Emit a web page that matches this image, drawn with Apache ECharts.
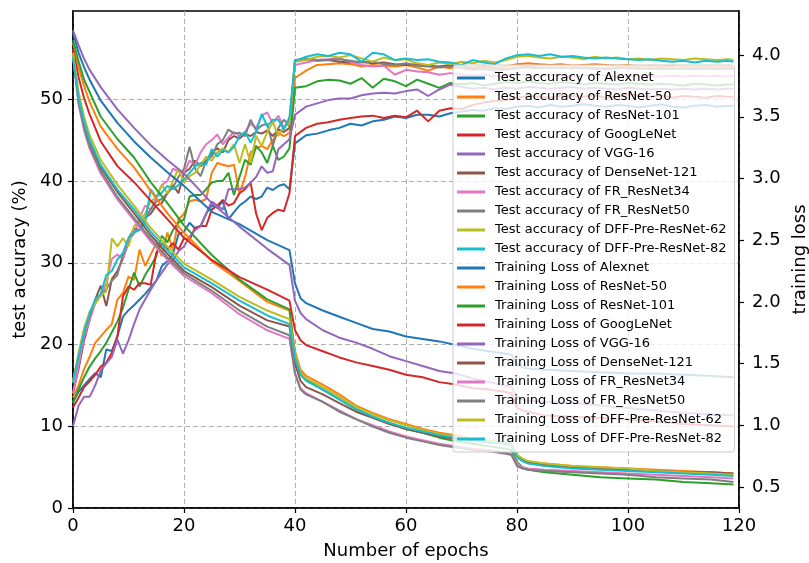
<!DOCTYPE html>
<html>
<head>
<meta charset="utf-8">
<script src="https://cdn.jsdelivr.net/npm/echarts@6/dist/echarts.min.js"></script>
<style>
  html, body { margin: 0; padding: 0; background: #fff; }
  #chart { width: 809px; height: 563px; }
</style>
</head>
<body>
<div id="chart"></div>
<script>
var models = ['Alexnet', 'ResNet-50', 'ResNet-101', 'GoogLeNet', 'VGG-16', 'DenseNet-121',
  'FR_ResNet34', 'FR_ResNet50', 'DFF-Pre-ResNet-62', 'DFF-Pre-ResNet-82']
var colors = ['#1f77b4', '#ff7f0e', '#2ca02c', '#d62728', '#9467bd', '#8c564b',
  '#e377c2', '#7f7f7f', '#bcbd22', '#17becf']

var accEpochs = [0, 1, 2, 3, 4, 5, 6, 7, 8, 9, 10, 11, 12, 13, 14, 15, 16, 17, 18, 19,
  20, 21, 22, 23, 24, 25, 26, 27, 28, 29, 30, 31, 32, 33, 34, 35, 36, 37, 38, 39, 40,
  42, 44, 46, 48, 50, 52, 54, 56, 58, 60, 62, 64, 66, 68, 70, 72, 74, 76, 78, 80,
  82, 84, 86, 88, 90, 92, 94, 96, 98, 100, 102, 104, 106, 108, 110, 112, 114, 116, 118, 119]

var accAlexnet = [13.0, 14.2, 15.0, 15.8, 16.5, 16.0, 19.4, 19.2, 21.0, 23.4, 24.2, 24.8, 25.5, 26.2, 27.0, 27.8, 29.6, 30.2, 31.0, 33.5,
  33.8, 34.9, 34.2, 34.5, 36.0, 37.0, 36.8, 37.5, 35.3, 36.2, 37.0, 37.5, 38.1, 37.8, 38.1, 39.2, 38.9, 39.4, 39.6, 39.0, 44.6,
  45.6, 45.8, 46.2, 46.5, 47.0, 46.8, 47.3, 47.5, 47.9, 47.7, 48.1, 48.1, 47.9, 48.3, 48.5, 48.7, 48.6, 48.9, 48.8, 49.1,
  49.2, 49.0, 49.3, 49.1, 49.2, 49.4, 49.2, 49.1, 49.3, 49.2, 49.0, 49.2, 49.4, 49.1, 49.0, 49.2, 49.3, 49.1, 49.2, 49.2]
var accResNet50 = [13.5, 15.0, 17.0, 18.5, 20.2, 21.0, 21.8, 22.5, 25.5, 26.3, 28.3, 27.9, 31.6, 29.6, 31.0, 32.4, 30.8, 33.7, 31.6, 35.3,
  36.0, 37.5, 37.7, 37.5, 37.8, 41.0, 42.2, 42.0, 41.8, 42.0, 38.5, 40.5, 43.5, 44.0, 44.3, 43.9, 45.0, 45.9, 45.5, 45.9, 52.6,
  53.5, 54.2, 54.3, 54.4, 54.3, 54.0, 54.2, 54.1, 54.0, 54.2, 53.9, 53.5, 54.0, 53.8, 54.0, 53.9, 54.1, 53.9, 54.0, 54.3,
  54.4, 54.3, 54.2, 54.3, 54.1, 54.2, 54.3, 54.2, 54.1, 54.2, 54.0, 54.1, 54.0, 54.1, 54.0, 53.9, 54.0, 53.9, 54.0, 53.9]
var accResNet101 = [12.8, 14.5, 16.0, 17.3, 18.3, 19.2, 20.2, 21.5, 22.8, 24.5, 26.7, 28.8, 27.1, 28.5, 29.6, 30.8, 33.3, 32.5, 34.0, 34.9,
  35.3, 38.1, 38.3, 38.3, 39.0, 39.8, 40.0, 40.0, 41.0, 38.3, 40.5, 42.6, 42.0, 44.3, 43.5, 42.2, 44.3, 42.6, 43.0, 44.0, 51.4,
  51.6, 52.2, 52.4, 52.3, 51.9, 52.6, 51.4, 52.5, 52.2, 51.6, 52.4, 51.9, 51.4, 52.0, 51.8, 52.0, 51.7, 51.9, 52.1, 52.0,
  52.2, 52.0, 51.9, 52.1, 52.0, 51.8, 52.0, 51.9, 51.8, 52.0, 51.9, 51.8, 51.9, 51.8, 51.7, 51.9, 51.8, 51.7, 51.8, 51.8]
var accGoogLeNet = [12.3, 13.5, 14.8, 15.5, 16.3, 17.3, 17.8, 19.0, 21.0, 25.9, 27.1, 26.7, 27.5, 27.5, 27.3, 31.2, 32.4, 31.6, 32.4, 31.6,
  33.0, 32.8, 34.3, 34.5, 34.5, 36.5, 37.0, 37.7, 37.0, 37.3, 38.5, 39.0, 39.8, 36.0, 34.0, 35.5, 36.1, 36.5, 36.3, 38.5, 45.5,
  46.5, 47.0, 47.2, 47.5, 47.7, 47.9, 48.0, 47.7, 48.0, 47.8, 48.6, 47.3, 48.6, 48.9, 48.8, 49.3, 49.6, 49.8, 49.9, 50.2,
  50.4, 50.3, 50.2, 50.5, 50.4, 50.3, 50.5, 50.2, 50.3, 50.6, 50.4, 50.3, 50.5, 50.2, 50.4, 50.3, 50.2, 50.4, 50.3, 50.3]
var accVGG16 = [10.0, 12.5, 13.6, 13.6, 15.0, 16.8, 17.7, 18.5, 20.6, 18.9, 20.5, 22.5, 24.3, 25.5, 26.7, 27.8, 28.8, 29.8, 30.3, 31.4,
  32.0, 33.2, 34.0, 34.5, 36.0, 37.5, 37.0, 36.5, 39.0, 39.0, 39.0, 39.2, 39.8, 40.5, 41.8, 41.0, 41.2, 43.9, 44.5, 45.1, 48.1,
  49.1, 49.5, 49.9, 50.1, 50.1, 50.5, 50.7, 50.8, 50.7, 51.0, 51.2, 50.4, 51.2, 51.8, 51.5, 51.3, 51.4, 51.2, 51.4, 51.3,
  51.5, 51.4, 51.3, 51.4, 51.5, 51.3, 51.4, 51.3, 51.2, 51.4, 51.3, 51.2, 51.3, 51.2, 51.3, 51.2, 51.3, 51.2, 51.3, 51.3]
var accDenseNet = [14.0, 17.0, 20.5, 23.0, 25.5, 27.2, 24.7, 28.0, 29.0, 30.5, 32.5, 34.0, 34.0, 35.5, 36.0, 37.0, 37.3, 38.5, 39.5, 38.5,
  41.0, 41.5, 42.5, 41.8, 42.5, 43.5, 44.0, 43.5, 45.0, 45.5, 45.2, 45.8, 45.5, 46.0, 45.8, 46.2, 45.5, 46.3, 46.0, 46.5, 54.8,
  54.9, 54.7, 54.8, 54.6, 54.5, 54.6, 54.4, 54.5, 54.3, 54.2, 54.3, 54.1, 54.0, 54.2, 53.9, 53.8, 53.9, 53.8, 53.7, 53.9,
  54.0, 53.9, 53.8, 53.9, 53.8, 53.9, 53.8, 53.7, 53.8, 53.9, 53.8, 53.7, 53.8, 53.7, 53.8, 53.7, 53.8, 53.7, 53.8, 53.7]
var accFR34 = [14.0, 17.5, 21.0, 23.0, 25.0, 26.0, 27.5, 30.5, 31.0, 30.5, 32.8, 33.5, 35.5, 37.0, 36.5, 38.0, 39.5, 40.0, 41.5, 41.2,
  41.0, 42.5, 42.0, 43.5, 44.5, 45.0, 45.7, 44.5, 45.3, 46.0, 45.5, 46.0, 47.0, 46.5, 48.0, 48.4, 47.0, 48.0, 46.5, 47.5, 54.2,
  54.5, 54.8, 54.9, 55.0, 54.6, 54.2, 54.0, 54.1, 53.0, 53.6, 53.4, 53.3, 53.0, 53.2, 53.0, 52.9, 53.0, 52.8, 52.9, 53.0,
  52.9, 52.8, 53.0, 52.9, 52.8, 52.9, 53.0, 52.9, 52.8, 52.9, 52.8, 52.9, 52.8, 52.9, 52.8, 52.9, 52.8, 52.9, 52.8, 52.9]
var accFR50 = [15.5, 18.5, 21.5, 23.5, 25.3, 26.0, 26.8, 27.8, 28.5, 31.0, 33.0, 34.2, 34.0, 35.5, 36.5, 37.5, 37.8, 38.5, 39.2, 40.5,
  41.5, 44.2, 41.5, 40.6, 42.5, 43.0, 44.5, 45.0, 46.3, 45.8, 45.9, 45.5, 47.5, 46.2, 46.8, 47.0, 44.3, 46.5, 47.5, 46.8, 54.7,
  55.0, 54.8, 54.8, 54.9, 54.7, 54.5, 54.6, 54.3, 54.2, 54.4, 54.1, 54.0, 53.9, 54.0, 53.8, 53.6, 53.7, 53.5, 53.6, 53.8,
  53.9, 53.8, 53.9, 53.8, 53.9, 53.8, 53.7, 53.8, 53.9, 53.8, 53.7, 53.8, 53.7, 53.8, 53.7, 53.8, 53.7, 53.8, 53.7, 53.8]
var accDFF62 = [15.5, 19.0, 22.0, 24.0, 25.0, 26.0, 26.5, 33.0, 32.0, 33.0, 32.0, 34.5, 35.0, 36.0, 37.5, 38.0, 39.5, 38.5, 40.0, 41.5,
  39.8, 40.6, 41.0, 42.0, 43.0, 42.5, 43.5, 44.0, 43.5, 44.5, 42.2, 44.5, 42.2, 45.5, 44.3, 46.0, 47.2, 45.5, 46.7, 47.0, 54.6,
  54.8, 55.2, 55.3, 55.1, 55.4, 55.0, 54.6, 55.1, 54.8, 54.9, 54.4, 54.2, 54.5, 54.3, 54.6, 54.4, 54.7, 54.5, 54.8, 55.2,
  55.3, 55.1, 55.0, 55.2, 55.1, 54.9, 55.2, 55.0, 55.1, 54.9, 55.0, 54.8, 55.0, 54.9, 54.8, 55.0, 54.9, 54.8, 54.9, 54.8]
var accDFF82 = [15.3, 18.5, 21.5, 23.8, 25.5, 26.2, 28.5, 29.0, 30.4, 31.2, 33.0, 33.7, 34.0, 34.9, 39.0, 38.0, 38.6, 39.4, 39.0, 39.5,
  40.2, 41.0, 41.8, 42.2, 42.0, 43.9, 43.0, 43.8, 43.5, 44.2, 45.5, 46.0, 44.7, 46.0, 48.2, 46.7, 47.5, 47.5, 46.3, 47.8, 54.7,
  55.2, 55.5, 55.3, 55.7, 55.5, 54.6, 55.7, 55.5, 54.8, 55.0, 54.8, 54.9, 54.6, 54.5, 54.2, 54.8, 54.5, 54.3, 55.0, 55.4,
  55.5, 55.3, 55.5, 55.2, 55.3, 55.1, 55.0, 55.1, 55.0, 54.9, 54.8, 54.9, 54.7, 54.6, 54.7, 54.5, 54.7, 54.6, 54.7, 54.6]

var lossEpochs = [0, 1, 2, 3, 5, 8, 11, 14, 17, 20, 25, 30, 35, 39, 40, 41, 42, 45, 48, 51,
  54, 57, 60, 63, 66, 69, 72, 75, 78, 79, 80, 81, 82, 85, 90, 95, 100, 105, 110, 115, 119]

var lossAlexnet = [4.18, 4.02, 3.90, 3.80, 3.63, 3.45, 3.30, 3.17, 3.05, 2.94, 2.73, 2.63, 2.50, 2.42, 2.15, 2.03, 1.99, 1.93, 1.88, 1.83,
  1.78, 1.76, 1.72, 1.70, 1.68, 1.65, 1.62, 1.60, 1.58, 1.57, 1.50, 1.47, 1.46, 1.45, 1.44, 1.43, 1.42, 1.42, 1.41, 1.40, 1.39]
var lossResNet50 = [4.10, 3.90, 3.75, 3.62, 3.42, 3.24, 3.09, 2.90, 2.72, 2.56, 2.33, 2.17, 2.00, 1.93, 1.60, 1.45, 1.40, 1.33, 1.25, 1.16,
  1.10, 1.05, 1.01, 0.97, 0.94, 0.92, 0.89, 0.87, 0.86, 0.85, 0.76, 0.72, 0.70, 0.69, 0.67, 0.66, 0.65, 0.64, 0.63, 0.62, 0.61]
var lossResNet101 = [4.12, 3.95, 3.80, 3.70, 3.50, 3.32, 3.17, 2.97, 2.80, 2.62, 2.38, 2.18, 2.02, 1.94, 1.55, 1.42, 1.37, 1.29, 1.21, 1.13,
  1.07, 1.02, 0.97, 0.94, 0.90, 0.87, 0.85, 0.83, 0.81, 0.80, 0.70, 0.66, 0.64, 0.62, 0.60, 0.58, 0.57, 0.56, 0.54, 0.53, 0.52]
var lossGoogLeNet = [4.05, 3.82, 3.65, 3.52, 3.30, 3.10, 2.97, 2.82, 2.67, 2.52, 2.34, 2.20, 2.10, 2.01, 1.77, 1.69, 1.65, 1.60, 1.55, 1.51,
  1.48, 1.45, 1.41, 1.39, 1.35, 1.33, 1.30, 1.29, 1.27, 1.26, 1.14, 1.12, 1.11, 1.08, 1.07, 1.06, 1.05, 1.03, 1.01, 1.00, 0.99]
var lossVGG16 = [4.20, 4.08, 3.97, 3.88, 3.74, 3.56, 3.41, 3.27, 3.15, 3.04, 2.80, 2.61, 2.43, 2.30, 2.01, 1.91, 1.86, 1.77, 1.71, 1.67,
  1.62, 1.56, 1.52, 1.48, 1.44, 1.42, 1.38, 1.35, 1.32, 1.31, 1.23, 1.21, 1.20, 1.19, 1.18, 1.16, 1.14, 1.12, 1.10, 1.09, 1.08]
var lossDenseNet = [4.00, 3.64, 3.44, 3.29, 3.09, 2.89, 2.72, 2.54, 2.39, 2.25, 2.12, 1.97, 1.85, 1.80, 1.50, 1.36, 1.31, 1.25, 1.18, 1.11,
  1.06, 1.01, 0.97, 0.94, 0.91, 0.89, 0.88, 0.86, 0.85, 0.84, 0.75, 0.72, 0.70, 0.68, 0.66, 0.65, 0.64, 0.63, 0.62, 0.62, 0.61]
var lossFR34 = [4.00, 3.60, 3.39, 3.24, 3.04, 2.83, 2.66, 2.49, 2.34, 2.21, 2.07, 1.90, 1.77, 1.70, 1.42, 1.30, 1.26, 1.19, 1.12, 1.05,
  1.00, 0.95, 0.91, 0.88, 0.85, 0.83, 0.81, 0.80, 0.78, 0.77, 0.69, 0.66, 0.65, 0.64, 0.63, 0.62, 0.61, 0.60, 0.59, 0.58, 0.57]
var lossFR50 = [4.00, 3.62, 3.41, 3.26, 3.06, 2.85, 2.68, 2.51, 2.36, 2.23, 2.09, 1.93, 1.80, 1.73, 1.42, 1.29, 1.25, 1.19, 1.11, 1.05,
  0.99, 0.94, 0.90, 0.87, 0.84, 0.82, 0.80, 0.79, 0.77, 0.76, 0.67, 0.65, 0.64, 0.63, 0.62, 0.61, 0.60, 0.58, 0.57, 0.56, 0.54]
var lossDFF62 = [4.02, 3.70, 3.50, 3.35, 3.15, 2.95, 2.78, 2.60, 2.45, 2.31, 2.18, 2.04, 1.93, 1.86, 1.58, 1.43, 1.38, 1.31, 1.23, 1.15,
  1.09, 1.04, 1.00, 0.96, 0.93, 0.91, 0.89, 0.87, 0.86, 0.85, 0.76, 0.73, 0.71, 0.69, 0.67, 0.66, 0.65, 0.63, 0.62, 0.61, 0.60]
var lossDFF82 = [3.98, 3.66, 3.46, 3.31, 3.11, 2.91, 2.75, 2.57, 2.42, 2.28, 2.15, 2.01, 1.89, 1.82, 1.55, 1.41, 1.36, 1.29, 1.21, 1.13,
  1.07, 1.02, 0.98, 0.95, 0.92, 0.90, 0.88, 0.86, 0.85, 0.84, 0.74, 0.71, 0.69, 0.67, 0.65, 0.64, 0.63, 0.62, 0.61, 0.60, 0.59]

var accTicks = [0, 10, 20, 30, 40, 50]
var lossTicks = [0.5, 1.0, 1.5, 2.0, 2.5, 3.0, 3.5, 4.0]

var accData = [accAlexnet, accResNet50, accResNet101, accGoogLeNet, accVGG16,
  accDenseNet, accFR34, accFR50, accDFF62, accDFF82]
var lossData = [lossAlexnet, lossResNet50, lossResNet101, lossGoogLeNet, lossVGG16,
  lossDenseNet, lossFR34, lossFR50, lossDFF62, lossDFF82]

function pairs(xs, ys) {
  return ys.map(function (v, i) { return [xs[i], v] })
}

var font = 'DejaVu Sans'
var series = []
var names = []
models.forEach(function (m, i) {
  names.push('Test accuracy of ' + m)
  series.push({
    name: 'Test accuracy of ' + m, type: 'line', yAxisIndex: 0,
    data: pairs(accEpochs, accData[i]), showSymbol: false, symbol: 'none',
    lineStyle: { width: 2, color: colors[i] }, itemStyle: { color: colors[i] }
  })
})
models.forEach(function (m, i) {
  names.push('Training Loss of ' + m)
  series.push({
    name: 'Training Loss of ' + m, type: 'line', yAxisIndex: 1,
    data: pairs(lossEpochs, lossData[i]), showSymbol: false, symbol: 'none',
    lineStyle: { width: 2, color: colors[i] }, itemStyle: { color: colors[i] }
  })
})

var axisText = { fontFamily: font, fontSize: 18, color: '#000' }
var dashed = { show: true, lineStyle: { color: '#b0b0b0', type: [5, 3], width: 1 } }

var option = {
  animation: false,
  backgroundColor: '#fff',
  grid: {
    left: 73, right: 70, top: 11, bottom: 55, outerBoundsMode: 'none',
    show: true, borderColor: '#000', borderWidth: 1.5
  },
  legend: {
    orient: 'vertical', left: 453, top: 65,
    padding: [6, 8, 6, 4],
    itemWidth: 28, itemHeight: 3, itemGap: 5, icon: 'rect',
    backgroundColor: 'rgba(255,255,255,0.8)', borderColor: '#cccccc', borderWidth: 1, borderRadius: 3,
    textStyle: { fontFamily: font, fontSize: 13, color: '#000', lineHeight: 14, padding: [0, 0, 0, 5] },
    data: names
  },
  xAxis: {
    type: 'value', min: 0, max: 120, interval: 20,
    name: 'Number of epochs', nameLocation: 'middle', nameGap: 34,
    nameTextStyle: axisText,
    axisLine: { lineStyle: { color: '#000', width: 1.5 } },
    axisTick: { show: true, length: 5, lineStyle: { color: '#000', width: 1.2 } },
    axisLabel: Object.assign({ margin: 9 }, axisText),
    splitLine: dashed
  },
  yAxis: [
    {
      type: 'value', min: 0, max: 60.8, position: 'left',
      name: 'test accuracy (%)', nameLocation: 'middle', nameGap: 42,
      nameTextStyle: axisText,
      axisLine: { show: true, lineStyle: { color: '#000', width: 1.5 } },
      axisTick: { show: true, length: 5, customValues: accTicks, lineStyle: { color: '#000', width: 1.2 } },
      axisLabel: Object.assign({ margin: 10, customValues: accTicks }, axisText),
      splitLine: dashed
    },
    {
      type: 'value', min: 0.33, max: 4.357, position: 'right',
      name: 'training loss', nameLocation: 'middle', nameGap: 48,
      nameTextStyle: axisText,
      axisLine: { show: true, lineStyle: { color: '#000', width: 1.5 } },
      axisTick: { show: true, length: 5, customValues: lossTicks, lineStyle: { color: '#000', width: 1.2 } },
      axisLabel: Object.assign({ margin: 13, customValues: lossTicks, formatter: function (v) { return v.toFixed(1) } }, axisText),
      splitLine: { show: false }
    }
  ],
  series: series
}

var chart = echarts.init(document.getElementById('chart'))
chart.setOption(option)
</script>
</body>
</html>
